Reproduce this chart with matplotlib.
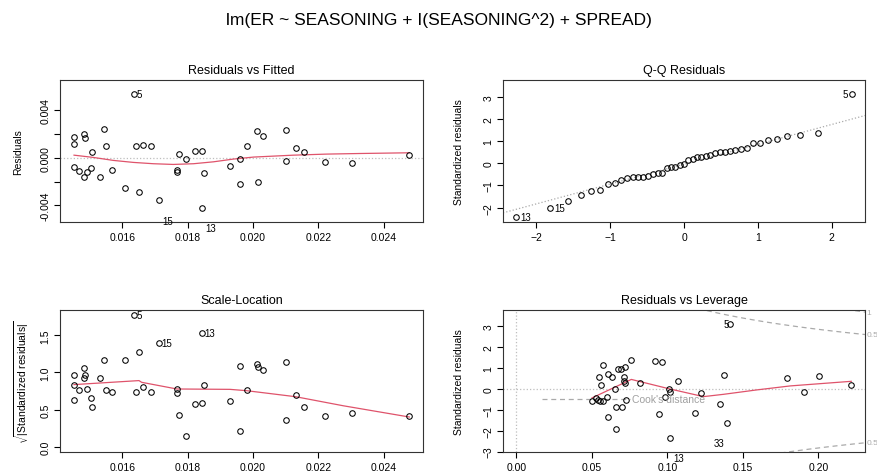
import numpy as np
import matplotlib
matplotlib.use("Agg")
import matplotlib.pyplot as plt
import matplotlib.transforms as mtrans

plt.rcParams["font.family"] = ["Liberation Sans", "DejaVu Sans"]
plt.rcParams["mathtext.fontset"] = "custom"
plt.rcParams["mathtext.rm"] = "Liberation Sans"
plt.rcParams["mathtext.it"] = "Liberation Sans:italic"

TITLE = "lm(ER ~ SEASONING + I(SEASONING^2) + SPREAD)"

# ---- Residuals vs Fitted ---------------------------------------------------
fitted = [0.01452, 0.01452, 0.01453, 0.01468, 0.01483, 0.01487, 0.01484, 0.01493,
          0.01504, 0.01507, 0.01532, 0.01543, 0.01549, 0.01569, 0.01609, 0.01636,
          0.01643, 0.01651, 0.01663, 0.01687, 0.01713, 0.01768, 0.01768, 0.01775,
          0.01795, 0.01822, 0.01845, 0.01845, 0.01849, 0.01930, 0.01960, 0.01960,
          0.01983, 0.02014, 0.02017, 0.02031, 0.02100, 0.02101, 0.02131, 0.02156,
          0.02222, 0.02305, 0.02479]
resid = [0.00171, 0.00120, -0.00076, -0.00112, 0.00204, 0.00168, -0.00165, -0.00117,
         -0.00087, 0.00050, -0.00159, 0.00243, 0.00101, -0.00106, -0.00252, 0.00534,
         0.00101, -0.00285, 0.00109, 0.00098, -0.00358, -0.00103, -0.00117, 0.00034,
         -0.00008, 0.00059, 0.00059, -0.00420, -0.00129, -0.00073, -0.00014, -0.00218,
         0.00098, 0.00224, -0.00207, 0.00187, 0.00232, -0.00028, 0.00081, 0.00050,
         -0.00034, -0.00042, 0.00025]
smooth1_x = [0.01452, 0.01511, 0.01572, 0.01634, 0.01695, 0.01756, 0.01818, 0.01879,
             0.01940, 0.02002, 0.02063, 0.02124, 0.02226, 0.02328, 0.02479]
smooth1_y = [0.00022, 0.00003, -0.00022, -0.00039, -0.00050, -0.00056, -0.00050,
             -0.00034, -0.00011, 0.00006, 0.00014, 0.00022, 0.00031, 0.00036, 0.00042]

# ---- Q-Q residuals ---------------------------------------------------------
qq_theo = [-2.268, -1.813, -1.570, -1.395, -1.255, -1.136, -1.031, -0.937, -0.850,
           -0.769, -0.693, -0.620, -0.551, -0.485, -0.420, -0.357, -0.296, -0.235,
           -0.175, -0.117, -0.058, 0.0, 0.058, 0.117, 0.175, 0.235, 0.296, 0.357,
           0.420, 0.485, 0.551, 0.620, 0.693, 0.769, 0.850, 0.937, 1.031, 1.136,
           1.255, 1.395, 1.570, 1.813, 2.268]
qq_std = [-2.41, -2.02, -1.69, -1.42, -1.26, -1.21, -0.93, -0.91, -0.76, -0.66, -0.63,
          -0.63, -0.60, -0.57, -0.49, -0.45, -0.42, -0.22, -0.18, -0.15, -0.09, -0.04,
          0.16, 0.19, 0.27, 0.30, 0.33, 0.36, 0.46, 0.51, 0.52, 0.55, 0.58, 0.64, 0.67,
          0.93, 0.93, 1.06, 1.11, 1.24, 1.29, 1.36, 3.11]
qq_intercept, qq_slope = -0.04, 0.897

# ---- Scale-Location --------------------------------------------------------
sqrt_abs_std = [0.97, 0.83, 0.63, 0.76, 1.06, 0.97, 0.93, 0.78, 0.66, 0.53, 0.92, 1.17,
                0.76, 0.74, 1.17, 1.77, 0.74, 1.27, 0.80, 0.74, 1.40, 0.78, 0.72, 0.43,
                0.14, 0.58, 1.53, 0.59, 0.83, 0.61, 1.09, 0.21, 0.77, 1.12, 1.07, 1.03,
                1.14, 0.36, 0.69, 0.53, 0.41, 0.45, 0.42]
sl_fitted = [0.01452, 0.01452, 0.01453, 0.01468, 0.01483, 0.01487, 0.01484, 0.01493,
             0.01504, 0.01507, 0.01532, 0.01543, 0.01549, 0.01569, 0.01609, 0.01636,
             0.01643, 0.01651, 0.01663, 0.01687, 0.01713, 0.01768, 0.01768, 0.01775,
             0.01795, 0.01822, 0.01845, 0.01845, 0.01849, 0.01930, 0.01960, 0.01960,
             0.01983, 0.02014, 0.02017, 0.02031, 0.02100, 0.02101, 0.02131, 0.02156,
             0.02222, 0.02305, 0.02479]
smooth3_x = [0.01452, 0.01651, 0.01659, 0.01767, 0.01930, 0.01981, 0.02131, 0.02277, 0.02479]
smooth3_y = [0.836, 0.890, 0.867, 0.777, 0.772, 0.754, 0.673, 0.551, 0.400]

# ---- Residuals vs Leverage -------------------------------------------------
leverage = [0.0503, 0.0529, 0.0540, 0.0551, 0.0573, 0.0549, 0.0560, 0.0573, 0.0602,
            0.0604, 0.0609, 0.0633, 0.0650, 0.0662, 0.0662, 0.0675, 0.0690, 0.0697,
            0.0714, 0.0714, 0.0717, 0.0721, 0.0723, 0.0761, 0.0820, 0.0917, 0.0942,
            0.0964, 0.0981, 0.1008, 0.1019, 0.1019, 0.1072, 0.1186, 0.1224, 0.1350,
            0.1378, 0.1394, 0.1416, 0.1790, 0.1903, 0.2004, 0.2218]
lev_std = [-0.60, -0.44, -0.52, -0.60, -0.60, 0.57, 0.19, 1.13, -0.38, 0.71, -1.37,
           0.57, -0.03, -1.94, -0.86, 0.95, 0.95, -0.87, 0.57, 0.35, 0.29, 1.05, -0.56,
           1.38, 0.29, 1.30, -1.19, 1.27, -0.38, -0.03, -0.17, -2.33, 0.37, -1.14,
           -0.22, -0.71, 0.67, -1.62, 3.10, 0.49, -0.14, 0.60, 0.19]
smooth4_x = [0.0501, 0.0761, 0.1008, 0.1239, 0.1372, 0.1592, 0.1813, 0.2218]
smooth4_y = [-0.44, 0.44, 0.0, -0.38, -0.27, -0.06, 0.13, 0.35]
n_params = 4
cook_levels = [0.5, 1.0]

RED = "#DF536B"
GRAY = "#BEBEBE"
W, H = 878, 477


def px_axes(fig, left, top, right, bottom):
    return fig.add_axes([left / W, 1 - bottom / H, (right - left) / W, (bottom - top) / H])


def style(ax, title):
    ax.set_title(title, fontsize=9, pad=5)
    ax.tick_params(direction="out", length=4.5, width=0.8, labelsize=7.5, pad=2.5)
    for lab in ax.get_yticklabels():
        lab.set_rotation(90)
        lab.set_va("center")
    for s in ax.spines.values():
        s.set_linewidth(0.8)
        s.set_color("#333333")


def pts(ax, x, y):
    ax.plot(x, y, "o", ms=4, mfc="none", mec="black", mew=0.75, zorder=3)


fig = plt.figure(figsize=(W / 100, H / 100), dpi=100)
fig.text(0.5, 1 - 21 / H, TITLE, ha="center", va="center", fontsize=12.5)

lab_kw = dict(fontsize=7, clip_on=False)

# Residuals vs Fitted
ax1 = px_axes(fig, 60, 81, 423, 223)
ax1.axhline(0, color=GRAY, ls=":", lw=0.9)
ax1.plot(smooth1_x, smooth1_y, color=RED, lw=0.9)
pts(ax1, fitted, resid)
ax1.set_xlim(0.01409, 0.02521)
ax1.set_ylim(-0.0054, 0.00654)
ax1.set_xticks([0.016, 0.018, 0.020, 0.022, 0.024])
ax1.set_xticklabels(["0.016", "0.018", "0.020", "0.022", "0.024"])
ax1.set_yticks([-0.004, -0.002, 0.0, 0.002, 0.004])
ax1.set_yticklabels(["-0.004", "", "0.000", "", "0.004"])
ax1.set_ylabel("Residuals", fontsize=7.5, labelpad=12)
style(ax1, "Residuals vs Fitted")
ax1.text(0.01642, 0.00534, "5", ha="left", va="center", **lab_kw)
ax1.text(0.01738, -0.00529, "15", ha="center", va="center", **lab_kw)
ax1.text(0.01872, -0.00590, "13", ha="center", va="center", **lab_kw)

# Q-Q Residuals
ax2 = px_axes(fig, 503, 81, 865, 223)
ax2.axline((0, qq_intercept), slope=qq_slope, color="#AAAAAA", ls=":", lw=0.9)
pts(ax2, qq_theo, qq_std)
ax2.set_xlim(-2.449, 2.449)
ax2.set_ylim(-2.65, 3.76)
ax2.set_xticks([-2, -1, 0, 1, 2])
ax2.set_yticks([-2, -1, 0, 1, 2, 3])
ax2.set_ylabel("Standardized residuals", fontsize=7.5, labelpad=14)
style(ax2, "Q-Q Residuals")
ax2.text(2.22, 3.11, "5", ha="right", va="center", **lab_kw)
ax2.text(-1.76, -2.02, "15", ha="left", va="center", **lab_kw)
ax2.text(-2.22, -2.41, "13", ha="left", va="center", **lab_kw)

# Scale-Location
ax3 = px_axes(fig, 60, 311, 423, 453)
ax3.plot(smooth3_x, smooth3_y, color=RED, lw=0.9)
pts(ax3, sl_fitted, sqrt_abs_std)
ax3.set_xlim(0.01409, 0.02521)
ax3.set_ylim(-0.071, 1.84)
ax3.set_xticks([0.016, 0.018, 0.020, 0.022, 0.024])
ax3.set_xticklabels(["0.016", "0.018", "0.020", "0.022", "0.024"])
ax3.set_yticks([0.0, 0.5, 1.0, 1.5])
ax3.set_yticklabels(["0.0", "0.5", "1.0", "1.5"])
ax3.set_ylabel(r"$\sqrt{|\mathrm{Standardized\ residuals}|}$", fontsize=7.5, labelpad=7)
style(ax3, "Scale-Location")
ax3.text(0.01642, 1.77, "5", ha="left", va="center", **lab_kw)
ax3.text(0.01719, 1.40, "15", ha="left", va="center", **lab_kw)
ax3.text(0.01851, 1.53, "13", ha="left", va="center", **lab_kw)

# Residuals vs Leverage
ax4 = px_axes(fig, 503, 311, 865, 453)
ax4.axhline(0, color=GRAY, ls=":", lw=0.9)
ax4.axvline(0, color=GRAY, ls=":", lw=0.9)
xl = (-0.0089, 0.2309)
hh = np.linspace(0.0022, xl[1], 101)
trans = mtrans.blended_transform_factory(ax4.transAxes, ax4.transData)
for lev in cook_levels:
    ch = np.sqrt(lev * n_params * (1 - hh) / hh)
    ax4.plot(hh, ch, color="#AAAAAA", ls=(0, (4, 3)), lw=0.9)
    ax4.plot(hh, -ch, color="#AAAAAA", ls=(0, (4, 3)), lw=0.9)
    edge = np.sqrt(lev * n_params * (1 - xl[1]) / xl[1])
    txt = "1" if lev == 1.0 else "0.5"
    for yv in (edge, -edge):
        if -3.02 < yv < 3.75:
            ax4.text(1.004, yv, txt, transform=trans, ha="left", va="center",
                     fontsize=6, color="#AAAAAA", clip_on=False)
ax4.plot(smooth4_x, smooth4_y, color=RED, lw=0.9)
pts(ax4, leverage, lev_std)
ax4.plot([0.017, 0.0754], [-0.48, -0.48], color="#AAAAAA", ls=(0, (4, 3)), lw=0.9)
ax4.text(0.0765, -0.50, "Cook's distance", ha="left", va="center", fontsize=7.5,
         color="#A0A0A0")
ax4.set_xlim(*xl)
ax4.set_ylim(-3.02, 3.75)
ax4.set_xticks([0.0, 0.05, 0.10, 0.15, 0.20])
ax4.set_xticklabels(["0.00", "0.05", "0.10", "0.15", "0.20"])
ax4.set_yticks([-3, -2, -1, 0, 1, 2, 3])
ax4.set_ylabel("Standardized residuals", fontsize=7.5, labelpad=14)
style(ax4, "Residuals vs Leverage")
ax4.text(0.1405, 3.10, "5", ha="right", va="center", **lab_kw)
ax4.text(0.1074, -3.29, "13", ha="center", va="center", **lab_kw)
ax4.text(0.1340, -2.57, "33", ha="center", va="center", **lab_kw)

fig.savefig("out.png", dpi=100)
